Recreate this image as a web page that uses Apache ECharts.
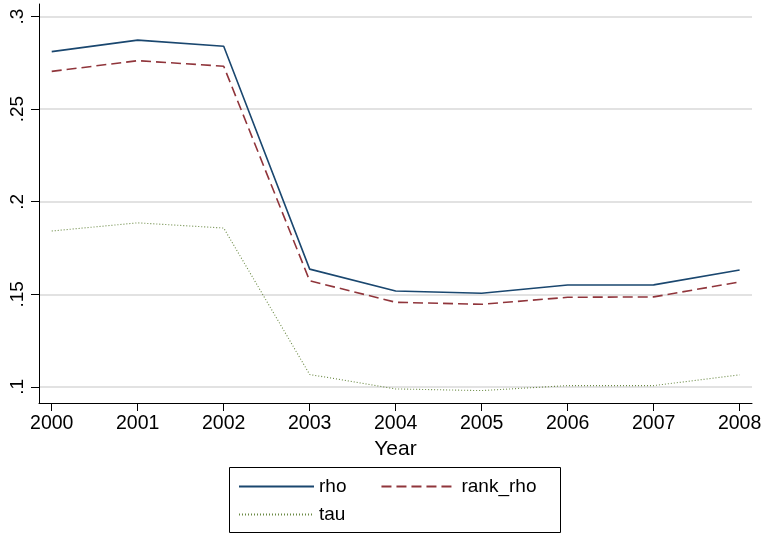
<!DOCTYPE html>
<html>
<head>
<meta charset="utf-8">
<script src="https://cdn.jsdelivr.net/npm/echarts@6/dist/echarts.min.js"></script>
<style>
  html, body { margin: 0; padding: 0; background: #fff; }
  #chart { width: 765px; height: 535px; }
</style>
</head>
<body>
<div id="chart"></div>
<script>
// Correlation measures by year
var years = [2000, 2001, 2002, 2003, 2004, 2005, 2006, 2007, 2008];
var rho     = [0.2811, 0.2873, 0.2840, 0.1636, 0.1518, 0.1506, 0.1550, 0.1551, 0.1631];
var rankRho = [0.2704, 0.2762, 0.2732, 0.1573, 0.1457, 0.1446, 0.1484, 0.1486, 0.1567];
var tau     = [0.1842, 0.1886, 0.1858, 0.1067, 0.0989, 0.0980, 0.1007, 0.1007, 0.1065];
var yTicks = [0.1, 0.15, 0.2, 0.25, 0.3];
var yTickLabels = ['.1', '.15', '.2', '.25', '.3'];

function pairs(vals) {
  return years.map(function (y, i) { return [y, vals[i]]; });
}

var font = '"Liberation Sans", Arial, Helvetica, sans-serif';
var chart = echarts.init(document.getElementById('chart'));

// legend keys show only the line sample, no marker
var legendBase = {
  itemWidth: 75, itemHeight: 14,
  padding: 0,
  itemStyle: { opacity: 0 },
  textStyle: { fontFamily: font, fontSize: 19, color: '#000' }
};

chart.setOption({
  animation: false,
  backgroundColor: '#ffffff',
  grid: { left: 39, right: 13, top: 4, bottom: 132 },
  xAxis: {
    type: 'value',
    min: 1999.852,
    max: 2008.144,
    name: 'Year',
    nameLocation: 'middle',
    nameGap: 35,
    nameTextStyle: { fontFamily: font, fontSize: 21, color: '#000' },
    axisLine: { show: true, lineStyle: { color: '#000', width: 1 } },
    axisTick: { show: true, length: 8, customValues: years, lineStyle: { color: '#000', width: 1 } },
    axisLabel: {
      customValues: years,
      fontFamily: font, fontSize: 19.5, color: '#000', margin: 11,
      formatter: function (v) { return String(Math.round(v)); }
    },
    splitLine: { show: false }
  },
  yAxis: {
    type: 'value',
    min: 0.0913,
    max: 0.3068,
    axisLine: { show: true, lineStyle: { color: '#000', width: 1 } },
    axisTick: { show: true, length: 8, customValues: yTicks, lineStyle: { color: '#000', width: 1 } },
    axisLabel: {
      customValues: yTicks,
      rotate: 90,
      fontFamily: font, fontSize: 19, color: '#000', margin: 12,
      formatter: function (v) {
        var i = yTicks.findIndex(function (t) { return Math.abs(t - v) < 1e-6; });
        return i >= 0 ? yTickLabels[i] : '';
      }
    },
    splitLine: { show: true, lineStyle: { color: '#d9d9d9', width: 1.5 } }
  },
  legend: [
    Object.assign({ data: ['rho', 'rank_rho'], left: 238, top: 477, itemGap: 34 }, legendBase),
    Object.assign({ data: ['tau'], left: 238, top: 505 }, legendBase)
  ],
  graphic: [
    {
      type: 'rect',
      shape: { x: 229.5, y: 467.5, width: 331, height: 65 },
      style: { fill: 'none', stroke: '#000', lineWidth: 1 },
      silent: true
    }
  ],
  series: [
    {
      name: 'rho', type: 'line', symbol: 'none',
      data: pairs(rho),
      lineStyle: { color: '#1a476f', width: 1.6, type: 'solid' },
      itemStyle: { color: '#1a476f' }
    },
    {
      name: 'rank_rho', type: 'line', symbol: 'none',
      data: pairs(rankRho),
      lineStyle: { color: '#90353b', width: 1.6, type: [10, 5] },
      itemStyle: { color: '#90353b' }
    },
    {
      name: 'tau', type: 'line', symbol: 'none',
      data: pairs(tau),
      lineStyle: { color: '#6b8a45', width: 1.1, type: [1, 2] },
      itemStyle: { color: '#6b8a45' }
    }
  ]
});
</script>
</body>
</html>
